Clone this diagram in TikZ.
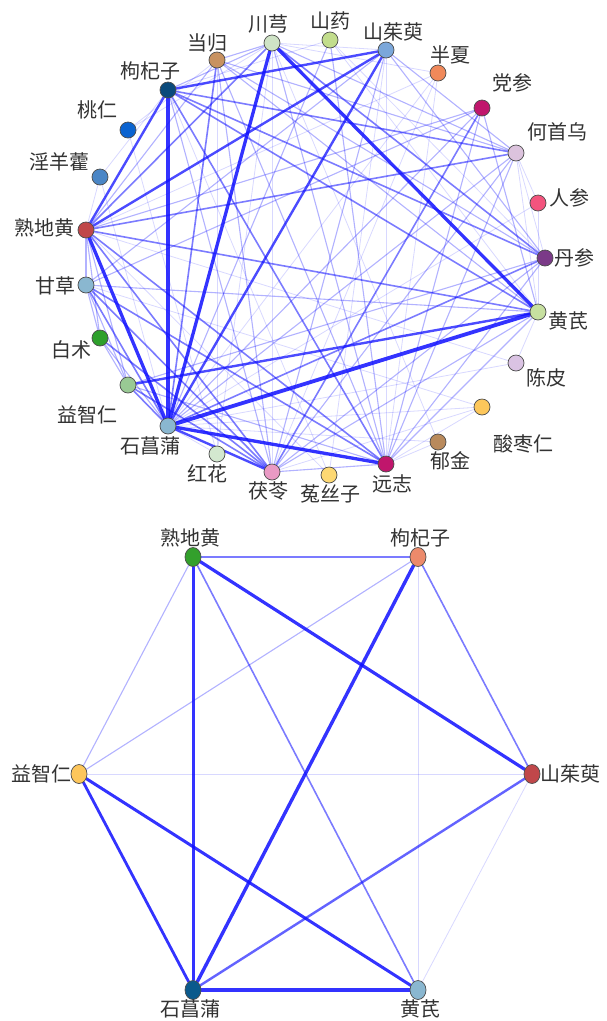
\documentclass[tikz,border=0pt]{standalone}
\usepackage{fontspec}
\setmainfont{Noto Sans CJK SC}
\usetikzlibrary{backgrounds,shapes.geometric}

\definecolor{cChuanx}{HTML}{CFE3C6}
\definecolor{cShanyao}{HTML}{C2DD8C}
\definecolor{cShanzhu}{HTML}{7BA7DA}
\definecolor{cBanxia}{HTML}{F0895A}
\definecolor{cDangshen}{HTML}{C0166C}
\definecolor{cHeshou}{HTML}{DCC3DD}
\definecolor{cRenshen}{HTML}{F3547E}
\definecolor{cDanshen}{HTML}{7B3A88}
\definecolor{cHuangqi}{HTML}{C7E0A0}
\definecolor{cChenpi}{HTML}{DAC3E3}
\definecolor{cSuanzao}{HTML}{FDC75B}
\definecolor{cYujin}{HTML}{B98A5C}
\definecolor{cYuanzhi}{HTML}{C0166C}
\definecolor{cTusi}{HTML}{FDD873}
\definecolor{cFuling}{HTML}{E99AC4}
\definecolor{cHonghua}{HTML}{D3E8CF}
\definecolor{cShichang}{HTML}{8AB7D0}
\definecolor{cYizhi}{HTML}{99C994}
\definecolor{cBaizhu}{HTML}{2EA02C}
\definecolor{cGancao}{HTML}{8AB7D0}
\definecolor{cShudi}{HTML}{C0474A}
\definecolor{cYinyang}{HTML}{4A86C6}
\definecolor{cTaoren}{HTML}{0B63D0}
\definecolor{cGouqi}{HTML}{0A4A7B}
\definecolor{cDanggui}{HTML}{C89261}
\definecolor{cShudiB}{HTML}{33A02C}
\definecolor{cGouqiB}{HTML}{EC8A6B}
\definecolor{cShichangB}{HTML}{0B5A8C}
\definecolor{cYizhiB}{HTML}{FDC65B}
\definecolor{linkblue}{HTML}{1010FF}

\tikzset{
	herb/.style={circle,draw=black!70,line width=.7pt,minimum size=16pt,inner sep=0pt},
	herbtwo/.style={ellipse,draw=black!70,line width=.7pt,minimum width=16pt,minimum height=19pt,inner sep=0pt},
	herbname/.style={text=black!80,inner sep=0pt,font=\fontsize{20}{22}\selectfont},
	link/.style={linkblue,line cap=round},
	linkA/.style={link,line width=3.3pt,draw opacity=.85},
	linkB/.style={link,line width=2.4pt,draw opacity=.75},
	linkC/.style={link,line width=1.6pt,draw opacity=.55},
	linkD/.style={link,line width=1.1pt,draw opacity=.32},
	linkE/.style={link,line width=.8pt,draw opacity=.16}
}

\begin{document}
\begin{tikzpicture}[x=1pt,y=-1pt]
	\useasboundingbox (0,0) rectangle (607,1021);

	% top network, 25 herbs on a ring
	\node[herb,fill=cDanshen] (danshen) at (545,258) {};
	\node[herb,fill=cHuangqi] (huangqi) at (538,312) {};
	\node[herb,fill=cChenpi] (chenpi) at (516,363) {};
	\node[herb,fill=cSuanzao] (suanzao) at (482,407) {};
	\node[herb,fill=cYujin] (yujin) at (438,442) {};
	\node[herb,fill=cYuanzhi] (yuanzhi) at (386,464) {};
	\node[herb,fill=cTusi] (tusi) at (329,475) {};
	\node[herb,fill=cFuling] (fuling) at (272,472) {};
	\node[herb,fill=cHonghua] (honghua) at (217,454) {};
	\node[herb,fill=cShichang] (shichang) at (168,426) {};
	\node[herb,fill=cYizhi] (yizhi) at (128,385) {};
	\node[herb,fill=cBaizhu] (baizhu) at (100,338) {};
	\node[herb,fill=cGancao] (gancao) at (86,285) {};
	\node[herb,fill=cShudi] (shudi) at (86,230) {};
	\node[herb,fill=cYinyang] (yinyang) at (100,177) {};
	\node[herb,fill=cTaoren] (taoren) at (128,130) {};
	\node[herb,fill=cGouqi] (gouqi) at (168,90) {};
	\node[herb,fill=cDanggui] (danggui) at (217,60) {};
	\node[herb,fill=cChuanx] (chuanx) at (272,43) {};
	\node[herb,fill=cShanyao] (shanyao) at (330,40) {};
	\node[herb,fill=cShanzhu] (shanzhu) at (386,50) {};
	\node[herb,fill=cBanxia] (banxia) at (438,73) {};
	\node[herb,fill=cDangshen] (dangshen) at (482,108) {};
	\node[herb,fill=cHeshou] (heshou) at (516,153) {};
	\node[herb,fill=cRenshen] (renshen) at (538,203) {};

	\node[herbname] (t-danshen) at (574,258) {丹参};
	\node[herbname] (t-huangqi) at (568,321) {黄芪};
	\node[herbname] (t-chenpi) at (546,378) {陈皮};
	\node[herbname] (t-suanzao) at (523,444) {酸枣仁};
	\node[herbname] (t-yujin) at (450,461) {郁金};
	\node[herbname] (t-yuanzhi) at (392,484) {远志};
	\node[herbname] (t-tusi) at (330,494) {菟丝子};
	\node[herbname] (t-fuling) at (268,491) {茯苓};
	\node[herbname] (t-honghua) at (207,474) {红花};
	\node[herbname] (t-shichang) at (150,446) {石菖蒲};
	\node[herbname] (t-yizhi) at (87,415) {益智仁};
	\node[herbname] (t-baizhu) at (71,350) {白术};
	\node[herbname] (t-gancao) at (55,286) {甘草};
	\node[herbname] (t-shudi) at (44,228) {熟地黄};
	\node[herbname] (t-yinyang) at (59,162) {淫羊藿};
	\node[herbname] (t-taoren) at (97,110) {桃仁};
	\node[herbname] (t-gouqi) at (150,71) {枸杞子};
	\node[herbname] (t-danggui) at (207,43) {当归};
	\node[herbname] (t-chuanx) at (268,24) {川芎};
	\node[herbname] (t-shanyao) at (330,21) {山药};
	\node[herbname] (t-shanzhu) at (393,32) {山茱萸};
	\node[herbname] (t-banxia) at (450,55) {半夏};
	\node[herbname] (t-dangshen) at (512,83) {党参};
	\node[herbname] (t-heshou) at (557,132) {何首乌};
	\node[herbname] (t-renshen) at (569,198) {人参};

	% bottom network, 6 herbs
	\node[herbtwo,fill=cShudiB] (shudiB) at (193,557) {};
	\node[herbtwo,fill=cGouqiB] (gouqiB) at (418,557) {};
	\node[herbtwo,fill=cShudi] (shanzhuB) at (532,774) {};
	\node[herbtwo,fill=cShichang] (huangqiB) at (418,990) {};
	\node[herbtwo,fill=cShichangB] (shichangB) at (193,990) {};
	\node[herbtwo,fill=cYizhiB] (yizhiB) at (79,774) {};

	\node[herbname] (t-shudiB) at (190,538) {熟地黄};
	\node[herbname] (t-gouqiB) at (420,538) {枸杞子};
	\node[herbname] (t-shanzhuB) at (570,774) {山茱萸};
	\node[herbname] (t-huangqiB) at (420,1009) {黄芪};
	\node[herbname] (t-shichangB) at (190,1009) {石菖蒲};
	\node[herbname] (t-yizhiB) at (42,774) {益智仁};

	\begin{scope}[on background layer]
		\fill[white] (0,0) rectangle (607,1021);

		% faint links
		\draw[linkE] (chuanx) -- (fuling); \draw[linkE] (shanzhu) -- (yuanzhi);
		\draw[linkE] (shanyao) -- (huangqi); \draw[linkE] (shanyao) -- (gouqi);
		\draw[linkE] (banxia) -- (shudi); \draw[linkE] (banxia) -- (shichang);
		\draw[linkE] (banxia) -- (fuling); \draw[linkE] (banxia) -- (yuanzhi);
		\draw[linkE] (banxia) -- (chuanx); \draw[linkE] (renshen) -- (huangqi);
		\draw[linkE] (renshen) -- (heshou); \draw[linkE] (renshen) -- (shichang);
		\draw[linkE] (chenpi) -- (shudi); \draw[linkE] (chenpi) -- (shichang);
		\draw[linkE] (chenpi) -- (huangqi); \draw[linkE] (suanzao) -- (fuling);
		\draw[linkE] (suanzao) -- (yuanzhi); \draw[linkE] (suanzao) -- (gancao);
		\draw[linkE] (suanzao) -- (shichang); \draw[linkE] (yujin) -- (shichang);
		\draw[linkE] (yujin) -- (chuanx); \draw[linkE] (yujin) -- (yuanzhi);
		\draw[linkE] (tusi) -- (shudi); \draw[linkE] (tusi) -- (gouqi);
		\draw[linkE] (tusi) -- (shanzhu); \draw[linkE] (honghua) -- (danggui);
		\draw[linkE] (honghua) -- (chuanx); \draw[linkE] (honghua) -- (shichang);
		\draw[linkE] (yinyang) -- (gouqi); \draw[linkE] (yinyang) -- (shichang);
		\draw[linkE] (yinyang) -- (shudi); \draw[linkE] (taoren) -- (danggui);
		\draw[linkE] (taoren) -- (honghua); \draw[linkE] (taoren) -- (chuanx);
		\draw[linkE] (heshou) -- (huangqi); \draw[linkE] (heshou) -- (danshen);
		\draw[linkE] (shanyao) -- (danshen); \draw[linkE] (chuanx) -- (shanzhu);

		% light links
		\draw[linkD] (chuanx) -- (heshou); \draw[linkD] (dangshen) -- (shudi);
		\draw[linkD] (dangshen) -- (gancao); \draw[linkD] (danshen) -- (yizhi);
		\draw[linkD] (danshen) -- (fuling); \draw[linkD] (danshen) -- (danggui);
		\draw[linkD] (gancao) -- (huangqi); \draw[linkD] (gancao) -- (yizhi);
		\draw[linkD] (shudi) -- (yizhi); \draw[linkD] (shudi) -- (baizhu);
		\draw[linkD] (baizhu) -- (shichang); \draw[linkD] (baizhu) -- (yizhi);
		\draw[linkD] (baizhu) -- (gancao); \draw[linkD] (heshou) -- (fuling);
		\draw[linkD] (heshou) -- (shichang); \draw[linkD] (heshou) -- (yuanzhi);
		\draw[linkD] (heshou) -- (danggui); \draw[linkD] (chuanx) -- (yuanzhi);
		\draw[linkD] (danggui) -- (yuanzhi); \draw[linkD] (danggui) -- (fuling);
		\draw[linkD] (danggui) -- (huangqi); \draw[linkD] (danggui) -- (chuanx);
		\draw[linkD] (danggui) -- (shudi); \draw[linkD] (chuanx) -- (gouqi);
		\draw[linkD] (yizhi) -- (yuanzhi); \draw[linkD] (fuling) -- (yuanzhi);
		\draw[linkD] (shanyao) -- (shichang); \draw[linkD] (shanyao) -- (yuanzhi);
		\draw[linkD] (huangqi) -- (yuanzhi); \draw[linkD] (danshen) -- (yuanzhi);
		\draw[linkD] (dangshen) -- (yuanzhi); \draw[linkD] (dangshen) -- (huangqi);
		\draw[linkD] (dangshen) -- (shichang); \draw[linkD] (shanzhu) -- (heshou);
		\draw[linkD] (shanzhu) -- (danshen); \draw[linkD] (shanzhu) -- (fuling);
		\draw[linkD] (shanzhu) -- (gancao); \draw[linkD] (huangqi) -- (fuling);
		\draw[linkD] (gouqi) -- (fuling); \draw[linkD] (shudi) -- (gancao);

		% medium links
		\draw[linkC] (chuanx) -- (danshen); \draw[linkC] (shudi) -- (huangqi);
		\draw[linkC] (gouqi) -- (danshen); \draw[linkC] (gouqi) -- (heshou);
		\draw[linkC] (dangshen) -- (fuling); \draw[linkC] (danshen) -- (shichang);
		\draw[linkC] (heshou) -- (shudi); \draw[linkC] (danggui) -- (shichang);
		\draw[linkC] (chuanx) -- (shudi); \draw[linkC] (gancao) -- (shichang);
		\draw[linkC] (gancao) -- (fuling); \draw[linkC] (gancao) -- (yuanzhi);
		\draw[linkC] (shudi) -- (fuling); \draw[linkC] (shudi) -- (yuanzhi);
		\draw[linkC] (baizhu) -- (fuling); \draw[linkC] (yizhi) -- (shichang);
		\draw[linkC] (yizhi) -- (fuling); \draw[linkC] (gouqi) -- (yuanzhi);
		\draw[linkC] (gouqi) -- (huangqi);

		% strong links
		\draw[linkB] (shudi) -- (shanzhu); \draw[linkB] (shichang) -- (shanzhu);
		\draw[linkB] (yizhi) -- (huangqi); \draw[linkB] (shudi) -- (gouqi);
		\draw[linkB] (shichang) -- (fuling); \draw[linkB] (gouqi) -- (shanzhu);

		% strongest links
		\draw[linkA,line width=3.8pt] (shichang) -- (huangqi);
		\draw[linkA] (chuanx) -- (huangqi);
		\draw[linkA] (gouqi) -- (shichang);
		\draw[linkA] (shudi) -- (shichang);
		\draw[linkA] (shichang) -- (yuanzhi);
		\draw[linkA] (chuanx) -- (shichang);

		% bottom network links
		\draw[linkE] (yizhiB) -- (shanzhuB); \draw[linkE] (gouqiB) -- (huangqiB);
		\draw[linkE] (shanzhuB) -- (huangqiB);
		\draw[linkD] (shudiB) -- (yizhiB); \draw[linkD] (gouqiB) -- (yizhiB);
		\draw[linkC] (shudiB) -- (huangqiB); \draw[linkC] (gouqiB) -- (shanzhuB);
		\draw[linkC,line width=2.6pt] (shudiB) -- (gouqiB);
		\draw[linkC,line width=2.4pt,draw opacity=.65] (shanzhuB) -- (shichangB);
		\draw[linkA,line width=2.8pt] (yizhiB) -- (shichangB);
		\draw[linkA,line width=3pt] (yizhiB) -- (huangqiB);
		\draw[linkA,line width=3pt] (shudiB) -- (shichangB);
		\draw[linkA,line width=3.2pt] (shudiB) -- (shanzhuB);
		\draw[linkA,line width=3.4pt] (gouqiB) -- (shichangB);
		\draw[linkA,line width=4.2pt] (shichangB) -- (huangqiB);
	\end{scope}
\end{tikzpicture}
\end{document}
